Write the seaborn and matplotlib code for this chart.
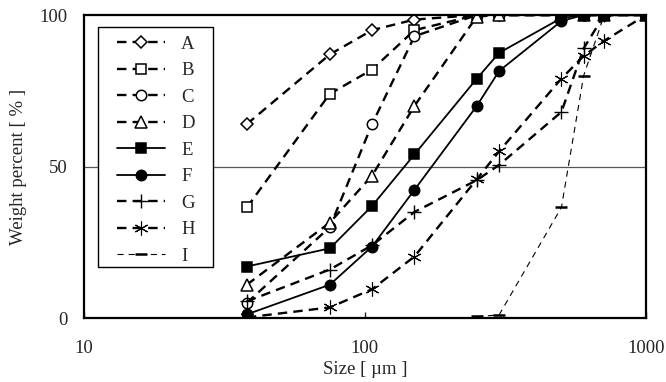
import matplotlib
matplotlib.use("Agg")
import matplotlib.pyplot as plt
from matplotlib.patches import Rectangle
import seaborn as sns
import numpy as np
import pandas as pd

# ---- data ----
sizes = [38, 75, 106, 150, 250, 300, 500, 600, 710, 1000]
series_names = ["A", "B", "C", "D", "E", "F", "G", "H", "I"]
A = [64, 87, 95, 98.5, 100, 100, 100, 100, 100, 100]
B = [36.5, 74, 82, 95, 100, 100, 100, 100, 100, 100]
C = [5, 30, 64, 93, 100, 100, 100, 100, 100, 100]
D = [11, 31.5, 47, 70, 99.5, 100, 100, 100, 100, 100]
E = [17, 23, 37, 54, 79, 87.5, 99, 100, 100, 100]
F = [1.2, 11, 23.6, 42.3, 70, 81.5, 98, 100, 100, 100]
G = [5.5, 16, 24, 35, 45.5, 50.5, 68, 89, 100, 100]
H = [0.2, 3.5, 9.5, 20.3, 45.8, 55, 79, 86.5, 91.5, 100]
I_sizes = [250, 300, 500, 600, 710, 1000]
I = [0.5, 1, 36.5, 80, 100, 100]
x_ticks = [10, 100, 1000]
y_ticks = [0, 50, 100]

sns.set_theme(style="white")
plt.rcParams["font.family"] = ["Liberation Serif", "DejaVu Serif"]
FS = 13.5

fig = plt.figure(figsize=(6.66, 3.82), dpi=100)
ax = fig.add_axes([0.126, 0.1675, 0.844, 0.7932])

dash_thick = (0, (4.0, 2.6))
dash_thin = (0, (5.5, 4.5))
styles = {
    "A": dict(marker="D", mfc="white", ms=6.0, ls=dash_thick, lw=1.7, mew=1.1),
    "B": dict(marker="s", mfc="white", ms=7.5, ls=dash_thick, lw=1.7, mew=1.1),
    "C": dict(marker="o", mfc="white", ms=7.5, ls=dash_thick, lw=1.7, mew=1.1),
    "D": dict(marker="^", mfc="white", ms=8.0, ls=dash_thick, lw=1.7, mew=1.1),
    "E": dict(marker="s", mfc="black", ms=7.5, ls="-", lw=1.3, mew=1.1),
    "F": dict(marker="o", mfc="black", ms=7.5, ls="-", lw=1.3, mew=1.1),
    "G": dict(marker="+", mfc="black", ms=10, ls=dash_thick, lw=1.7, mew=1.0),
    "H": dict(marker=(6, 2, 0), mfc="black", ms=10, ls=dash_thick, lw=1.7, mew=0.8),
    "I": dict(marker="_", mfc="black", ms=9, ls=dash_thin, lw=0.8, mew=1.8),
}
data = {"A": A, "B": B, "C": C, "D": D, "E": E, "F": F, "G": G, "H": H}

for name in series_names:
    st = styles[name]
    xs = I_sizes if name == "I" else sizes
    ys = I if name == "I" else data[name]
    df = pd.DataFrame({"size": xs, "pct": ys})
    sns.lineplot(data=df, x="size", y="pct", ax=ax, color="black",
                 marker=st["marker"], markerfacecolor=st["mfc"],
                 markeredgecolor="black", markersize=st["ms"],
                 markeredgewidth=st["mew"], linestyle=st["ls"], linewidth=st["lw"],
                 label=name, sort=False, errorbar=None)

ax.set_xscale("log")
ax.set_xlim(10, 1000)
ax.set_ylim(0, 100)
ax.set_xticks(x_ticks)
ax.set_xticklabels([str(t) for t in x_ticks])
ax.xaxis.set_minor_locator(matplotlib.ticker.NullLocator())
ax.set_yticks(y_ticks)
ax.set_yticklabels([str(t) for t in y_ticks])
ax.axhline(50, color="#555555", lw=0.9, zorder=0)

ax.tick_params(axis="x", direction="in", length=4, width=1, pad=16, labelsize=FS, bottom=True)
ax.tick_params(axis="y", direction="in", length=0, pad=12, labelsize=FS, left=True)
for sp in ax.spines.values():
    sp.set_color("black")
    sp.set_linewidth(1.6)

ax.set_xlabel("Size [ µm ]", fontsize=FS, labelpad=3)
ax.set_ylabel("Weight percent [ % ]", fontsize=FS, labelpad=9)

# legend frame drawn separately to get wider side padding
ax.add_patch(Rectangle((0.0249, 0.168), 0.2046, 0.792, transform=ax.transAxes,
                       facecolor="white", edgecolor="black", lw=1.0, zorder=4))
leg = ax.legend(loc="upper left", bbox_to_anchor=(0.058, 0.932), borderaxespad=0.0,
                borderpad=0.0, fontsize=FS, frameon=False,
                handlelength=2.6, handletextpad=0.85, labelspacing=0.5)
leg.set_zorder(5)

fig.savefig("out.png", dpi=100)
